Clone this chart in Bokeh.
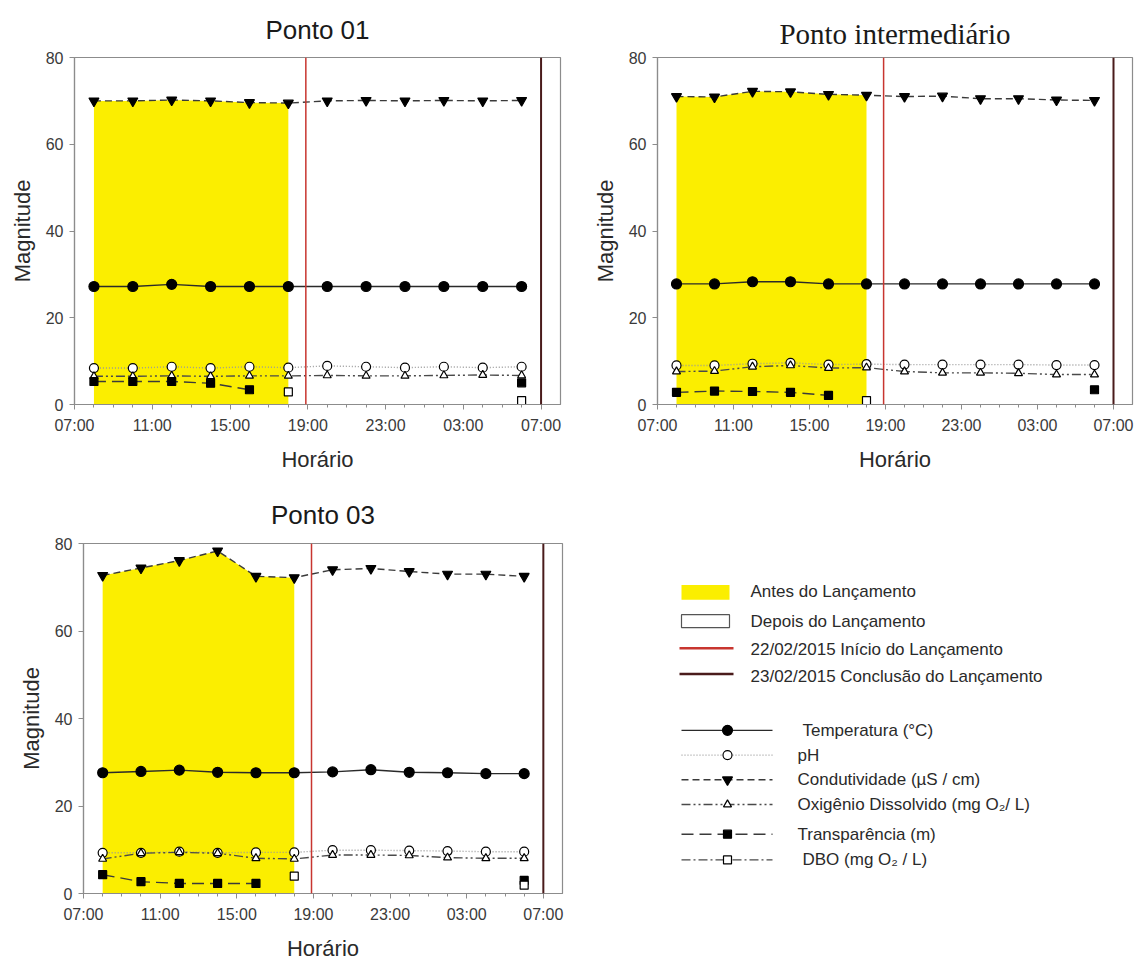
from bokeh.plotting import figure
from bokeh.layouts import column, row
from bokeh.models import Range1d, FixedTicker, Span
from bokeh.embed import file_html
from bokeh.resources import INLINE
from bokeh.core.properties import value

nan = float("nan")

# ---------------- data ----------------
hours = [8, 10, 12, 14, 16, 18, 20, 22, 24, 26, 28, 30]   # 08:00 ... 06:00 (next day)
n_before = 6                                               # 08:00 .. 18:00 = before launch
tick_pos = [7, 11, 15, 19, 23, 27, 31]
tick_labels = ["07:00", "11:00", "15:00", "19:00", "23:00", "03:00", "07:00"]
minor_pos = [8, 9, 10, 12, 13, 14, 16, 17, 18, 20, 21, 22, 24, 25, 26, 28, 29, 30]
y_ticks = [0, 20, 40, 60, 80]
launch_start = 18.9   # 22/02/2015 ~19:00
launch_end = 31       # 23/02/2015 07:00

p1_temp = [27.2, 27.2, 27.7, 27.2, 27.2, 27.2, 27.2, 27.2, 27.2, 27.2, 27.2, 27.2]
p1_ph = [8.4, 8.4, 8.7, 8.4, 8.7, 8.5, 8.9, 8.7, 8.5, 8.7, 8.5, 8.7]
p1_cond = [70.0, 70.0, 70.2, 70.0, 69.6, 69.5, 70.0, 70.1, 70.0, 70.1, 70.0, 70.1]
p1_od = [6.5, 6.5, 6.6, 6.5, 6.6, 6.6, 6.7, 6.6, 6.6, 6.7, 6.8, 6.7]
p1_transp = [5.3, 5.3, 5.3, 4.9, 3.4, nan, nan, nan, nan, nan, nan, 5.0]
p1_dbo = [nan, nan, nan, nan, nan, 2.9, nan, nan, nan, nan, nan, 0.9]

p2_temp = [27.8, 27.8, 28.3, 28.3, 27.8, 27.8, 27.8, 27.8, 27.8, 27.8, 27.8, 27.8]
p2_ph = [9.0, 9.0, 9.4, 9.6, 9.2, 9.3, 9.2, 9.2, 9.2, 9.2, 9.1, 9.1]
p2_cond = [71.0, 70.9, 72.2, 72.1, 71.5, 71.3, 71.0, 71.1, 70.5, 70.5, 70.2, 70.1]
p2_od = [7.6, 7.7, 8.7, 9.0, 8.4, 8.5, 7.6, 7.3, 7.3, 7.2, 6.9, 6.9]
p2_transp = [2.8, 3.1, 3.0, 2.8, 2.1, nan, nan, nan, nan, nan, nan, 3.4]
p2_dbo = [nan, nan, nan, nan, nan, 0.9, nan, nan, nan, nan, nan, nan]

p3_temp = [27.6, 27.9, 28.2, 27.7, 27.6, 27.6, 27.8, 28.3, 27.7, 27.6, 27.4, 27.4]
p3_ph = [9.3, 9.3, 9.55, 9.3, 9.4, 9.4, 9.9, 9.9, 9.8, 9.7, 9.55, 9.55]
p3_cond = [72.7, 74.4, 76.1, 78.3, 72.5, 72.2, 74.0, 74.3, 73.6, 73.0, 73.0, 72.5]
p3_od = [7.9, 9.2, 9.4, 9.2, 8.05, 7.9, 8.8, 8.8, 8.7, 8.2, 8.05, 8.05]
p3_transp = [4.3, 2.7, 2.3, 2.3, 2.3, nan, nan, nan, nan, nan, nan, 3.0]
p3_dbo = [nan, nan, nan, nan, nan, 3.95, nan, nan, nan, nan, nan, 1.9]

region_labels = ["Antes do Lançamento", "Depois do Lançamento",
                 "22/02/2015 Início do Lançamento", "23/02/2015 Conclusão do Lançamento"]
series_labels = ["Temperatura  (°C)", "pH", "Condutividade (µS / cm)",
                 "Oxigênio Dissolvido (mg O₂/ L)", "Transparência (m)", "DBO (mg O₂ / L)"]

# ---------------- styles ----------------
YELLOW = "#fbee00"
RED = "#c8352f"
DARK = "#4a1b1b"
AXIS = "#8c8c8c"
SANS = "Liberation Sans"

series_styles = [
    dict(dash="solid", color="#2a2a2a", marker="circle", size=10, fill="black"),
    dict(dash="1 2", color="#9a9a9a", marker="circle", size=9, fill="white"),
    dict(dash="7 4", color="#3a3a3a", marker="inverted_triangle", size=10, fill="black"),
    dict(dash="9 3 2 3 2 3", color="#4a4a4a", marker="triangle", size=8, fill="white"),
    dict(dash="12 6", color="#3a3a3a", marker="square", size=8, fill="black"),
    dict(dash="9 3 2 3", color="#4a4a4a", marker="square", size=8, fill="white"),
]


def make_panel(title, title_font, title_size, title_standoff, width, height, borders, series):
    bl, br, bt, bb = borders
    p = figure(width=width, height=height, x_range=Range1d(7, 32), y_range=Range1d(0, 80),
               output_backend="svg", toolbar_location=None,
               min_border_left=bl, min_border_right=br, min_border_top=bt, min_border_bottom=bb)
    p.title.text = title
    p.title.align = "center"
    p.title.text_font = title_font
    p.title.text_font_size = title_size
    p.title.text_font_style = "normal"
    p.title.text_color = "#1a1a1a"
    p.title.standoff = title_standoff
    p.xgrid.visible = False
    p.ygrid.visible = False
    p.outline_line_color = AXIS
    p.outline_line_width = 1.2

    p.xaxis.ticker = FixedTicker(ticks=tick_pos, minor_ticks=minor_pos)
    p.xaxis.major_label_overrides = {t: l for t, l in zip(tick_pos, tick_labels)}
    p.yaxis.ticker = FixedTicker(ticks=y_ticks, minor_ticks=[])
    p.xaxis.axis_label = "Horário"
    p.yaxis.axis_label = "Magnitude"
    for ax in (p.xaxis[0], p.yaxis[0]):
        ax.axis_line_color = AXIS
        ax.axis_line_width = 1.2
        ax.major_tick_line_color = AXIS
        ax.minor_tick_line_color = AXIS
        ax.major_tick_out = 5
        ax.major_tick_in = 0
        ax.minor_tick_out = 3
        ax.minor_tick_in = 0
        ax.major_label_text_font = SANS
        ax.major_label_text_font_size = "16px"
        ax.major_label_text_color = "#3a3a3a"
        ax.axis_label_text_font = SANS
        ax.axis_label_text_font_size = "22px"
        ax.axis_label_text_font_style = "normal"
        ax.axis_label_text_color = "#2a2a2a"
    p.xaxis.major_label_standoff = 7
    p.xaxis.axis_label_standoff = 10
    p.yaxis.major_label_standoff = 6
    p.yaxis.axis_label_standoff = 8

    temp, ph, cond, od, transp, dbo = series
    # yellow "before launch" area under conductivity
    p.varea(x=hours[:n_before], y1=0, y2=cond[:n_before], fill_color=YELLOW, fill_alpha=1.0)
    p.add_layout(Span(location=launch_start, dimension="height", line_color=RED, line_width=1.5))
    p.add_layout(Span(location=launch_end, dimension="height", line_color=DARK, line_width=2))

    for vals, st in zip([temp, ph, cond, od, transp, dbo], series_styles):
        p.line(hours, vals, line_color=st["color"], line_width=1.4, line_dash=st["dash"])
    for vals, st in zip([temp, ph, cond, od, transp, dbo], series_styles):
        p.scatter(hours, vals, marker=st["marker"], size=st["size"],
                  fill_color=st["fill"], line_color="black", line_width=1.2)
    return p


p1 = make_panel("Ponto 01", SANS, "26px", 25, 570, 474, (74, 10, 57, 68),
                [p1_temp, p1_ph, p1_cond, p1_od, p1_transp, p1_dbo])
p2 = make_panel("Ponto intermediário", "Liberation Serif", "29px", 16, 574, 474, (87, 12, 57, 67),
                [p2_temp, p2_ph, p2_cond, p2_od, p2_transp, p2_dbo])
p3 = make_panel("Ponto 03", SANS, "26px", 27, 570, 489, (83, 8, 69, 66),
                [p3_temp, p3_ph, p3_cond, p3_od, p3_transp, p3_dbo])

# ---------------- legend figure ----------------
# its frame is aligned with Ponto 03's frame in the row; the range maps the row's pixel rows
leg = figure(width=574, height=489, x_range=Range1d(0, 574), y_range=Range1d(423, 69),
             output_backend="svg", toolbar_location=None, title_location=None,
             min_border_left=0, min_border_right=0, min_border_top=69, min_border_bottom=66,
             x_axis_location=None, y_axis_location=None, outline_line_color=None)
leg.xgrid.visible = False
leg.ygrid.visible = False

# region entries
leg.quad(left=[111], right=[159], top=[111], bottom=[126], fill_color=YELLOW, line_color=None)
leg.quad(left=[111], right=[159], top=[141], bottom=[154], fill_color="white", line_color="#555555", line_width=1.2)
leg.segment(x0=[109], y0=[175], x1=[163], y1=[175], line_color=RED, line_width=2.5)
leg.segment(x0=[109], y0=[201], x1=[163], y1=[201], line_color=DARK, line_width=2.5)
leg.text(x=[180] * 4, y=[118, 148, 176, 204], text=region_labels,
         text_font=value(SANS), text_font_size="17px", text_color="#2a2a2a",
         text_align="left", text_baseline="middle")

# series entries
series_y = [258, 283, 308, 333, 363, 389]
for yy, st in zip(series_y, series_styles):
    leg.line([111, 202], [yy, yy], line_color=st["color"], line_width=1.4, line_dash=st["dash"])
    leg.scatter([157], [yy], marker=st["marker"], size=st["size"], fill_color=st["fill"],
                line_color="black", line_width=1.2)
leg.text(x=[232, 227, 227, 227, 227, 232], y=series_y, text=series_labels,
         text_font=value(SANS), text_font_size="17px", text_color="#2a2a2a",
         text_align="left", text_baseline="middle")

layout = column(row(p1, p2), row(p3, leg))
open("out.html", "w").write(file_html(layout, INLINE))
